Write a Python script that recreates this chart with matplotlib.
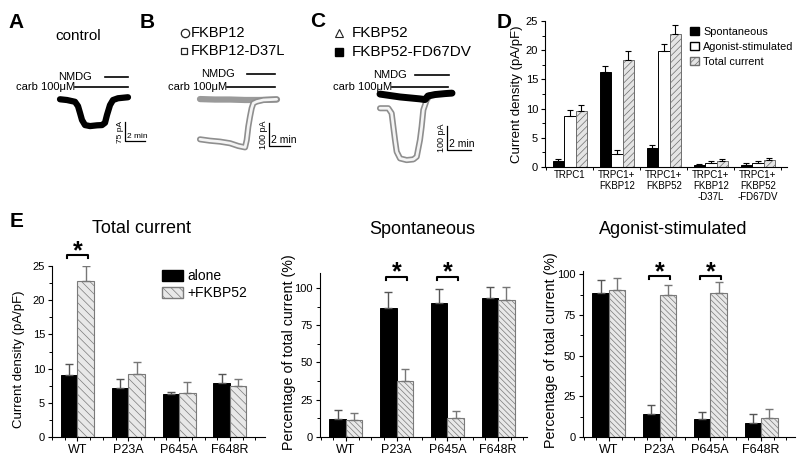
import numpy as np
import matplotlib.pyplot as plt
from matplotlib.lines import Line2D
from matplotlib.patches import Patch
from matplotlib.ticker import AutoMinorLocator, FixedLocator

plt.rcParams['font.family'] = ['Liberation Sans', 'DejaVu Sans']
plt.rcParams['hatch.linewidth'] = 0.5

W, H = 800, 470

# ---------------- traces A-C (time in min, current in pA) ----------------
a_time = [0, 0.7, 1.5, 1.8, 2.0, 2.2, 2.5, 3.0, 3.7, 4.2, 4.5, 4.7, 5.0, 5.3, 5.8, 6.8]
a_curr = [-5, -8, -15, -32, -59, -87, -107, -111, -108, -107, -98, -67, -28, -8, -1, 3]

b_mut_time = [0, 1.43, 2.86, 4.29, 5.71, 7.33]
b_mut_curr = [-9, -11, -11, -13, -13, -11]
b_wt_time = [0, 0.95, 1.9, 2.86, 3.65, 4.29, 4.45, 4.6, 4.76, 4.92, 5.08, 5.4, 6.03, 7.3]
b_wt_curr = [-184, -190, -194, -201, -213, -219, -187, -129, -86, -49, -27, -20, -13, -10]

c_mut_time = [0, 0.83, 1.67, 2.5, 3.33, 3.75, 4.0, 4.58, 5.42, 6.0]
c_mut_curr = [8, 2, -4, -8, -12, -15, 0, 6, 10, 12]
c_wt_time = [0, 0.69, 0.97, 1.11, 1.25, 1.39, 1.67, 2.22, 2.78, 3.06, 3.33, 3.47, 3.61, 3.89, 4.17]
c_wt_curr = [-51, -51, -72, -128, -183, -232, -260, -267, -264, -253, -183, -128, -58, -17, 4]

# ---------------- panel D ----------------
d_groups = ['TRPC1', 'TRPC1+\nFKBP12', 'TRPC1+\nFKBP52',
            'TRPC1+\nFKBP12\n-D37L', 'TRPC1+\nFKBP52\n-FD67DV']
d_spont = [1.0, 16.3, 3.2, 0.4, 0.3]
d_spont_err = [0.45, 1.0, 0.6, 0.15, 0.35]
d_agon = [8.7, 2.2, 19.8, 0.7, 0.6]
d_agon_err = [1.0, 0.7, 1.3, 0.3, 0.4]
d_total = [9.6, 18.4, 22.8, 1.0, 1.15]
d_total_err = [1.0, 1.5, 1.6, 0.45, 0.45]

# ---------------- panel E ----------------
mutants = ['WT', 'P23A', 'P645A', 'F648R']
tot_alone = [9.1, 7.1, 6.3, 7.9]
tot_alone_err = [1.5, 1.45, 0.25, 1.35]
tot_fk = [22.85, 9.2, 6.5, 7.5]
tot_fk_err = [2.15, 1.8, 1.55, 1.0]
spo_alone = [12.4, 86.5, 89.9, 93.3]
spo_alone_err = [5.6, 10.5, 9.6, 7.4]
spo_fk = [11.2, 37.8, 13.0, 92.1]
spo_fk_err = [5.2, 7.6, 4.5, 8.6]
ago_alone = [88.7, 14.3, 11.3, 8.4]
ago_alone_err = [7.6, 5.4, 4.3, 5.9]
ago_fk = [90.2, 87.1, 88.7, 11.7]
ago_fk_err = [7.3, 6.1, 6.8, 5.7]

fig = plt.figure(figsize=(8, 4.7), dpi=100)


def px_axes(l, t, r, b):
    return fig.add_axes([l / W, 1 - b / H, (r - l) / W, (b - t) / H])


def ftext(x, y, s, **kw):
    return fig.text(x / W, 1 - y / H, s, **kw)


def trace_axes(box, x0, y0, ppm, ppp):
    l, t, r, b = box
    ax = px_axes(l, t, r, b)
    ax.set_xlim((l - x0) / ppm, (r - x0) / ppm)
    ax.set_ylim((y0 - b) / ppp, (y0 - t) / ppp)
    ax.axis('off')
    return ax


def protocol(ax, carb, carb_lvl, nmdg, nmdg_lvl, gap):
    ax.plot(carb, [carb_lvl, carb_lvl], color='k', lw=1.2)
    ax.text(carb[0], carb_lvl, 'carb 100\u03bcM', ha='right', va='center', fontsize=8)
    ax.plot(nmdg, [nmdg_lvl, nmdg_lvl], color='k', lw=1.2)
    ax.text(nmdg[0] - gap, nmdg_lvl, 'NMDG', ha='right', va='center', fontsize=8)


def scalebar(ax, x, y, tlen, ilen, ilabel, fs_t, fs_i):
    ax.plot([x, x, x + tlen], [y + ilen, y, y], color='k', lw=0.9)
    ax.annotate('2 min', (x, y), xytext=(1.5, 1), textcoords='offset points',
                ha='left', va='bottom', fontsize=fs_t)
    ax.annotate(ilabel, (x, y + ilen / 2), xytext=(-1, 0), textcoords='offset points',
                ha='right', va='center', rotation=90, fontsize=fs_i)


def tube(ax, t, i):
    # chain of open grey markers
    ax.plot(t, i, color='#8e8e8e', lw=4.4, solid_joinstyle='round', solid_capstyle='round')
    ax.plot(t, i, color='#f4f4f4', lw=2.0, solid_joinstyle='round', solid_capstyle='round')


def leg_marker(x, y, **kw):
    fig.add_artist(Line2D([x / W], [1 - y / H], transform=fig.transFigure, ls='none', **kw))


# Panel A
axA = trace_axes((15, 55, 150, 160), 60, 98, 10.0, 0.253)
protocol(axA, [1.5, 6.8], 43, [4.5, 6.8], 83, 1.3)
axA.plot(a_time, a_curr, color='k', lw=4.5, solid_joinstyle='round', solid_capstyle='round')
scalebar(axA, 6.5, -170, 2, 75, '75 pA', 6, 6)
ftext(78, 36, 'control', ha='center', va='center', fontsize=11)

# Panel B
axB = trace_axes((150, 55, 305, 165), 200, 97, 10.5, 0.23)
protocol(axB, [2.54, 7.14], 42, [4.45, 7.14], 100, 1.1)
axB.plot(b_mut_time, b_mut_curr, color='#9a9a9a', lw=4.5, solid_capstyle='round')
tube(axB, b_wt_time, b_wt_curr)
scalebar(axB, 6.6, -213, 2, 100, '100 pA', 7.5, 6.5)
leg_marker(185, 33, marker='o', ms=6, mfc='white', mec='#222', mew=0.9)
leg_marker(184, 51, marker='s', ms=5, mfc='white', mec='#222', mew=0.9)
ftext(191, 33, 'FKBP12', va='center', fontsize=10.5)
ftext(191, 51, 'FKBP12-D37L', va='center', fontsize=10.5)

# Panel C
axC = trace_axes((330, 55, 490, 170), 380, 96, 12.0, 0.24)
protocol(axC, [0.97, 5.69], 36, [2.92, 5.78], 87, 0.7)
tube(axC, c_wt_time, c_wt_curr)
axC.plot(c_mut_time, c_mut_curr, color='k', lw=5, solid_capstyle='round')
scalebar(axC, 5.58, -225, 2, 100, '100 pA', 7.5, 6.5)
leg_marker(339, 33, marker='^', ms=6, mfc='white', mec='#222', mew=0.8)
leg_marker(339, 52, marker='s', ms=6, mfc='black', mec='black')
ftext(352, 33, 'FKBP52', va='center', fontsize=11)
ftext(352, 52, 'FKBP52-FD67DV', va='center', fontsize=11)


def style_axes(ax, ymajor, labelsize):
    for s in ('top', 'right'):
        ax.spines[s].set_visible(False)
    for s in ('left', 'bottom'):
        ax.spines[s].set_linewidth(0.8)
    ax.yaxis.set_major_locator(FixedLocator(ymajor))
    ax.yaxis.set_minor_locator(AutoMinorLocator(2))
    ax.tick_params(direction='out', length=3, width=0.8, labelsize=labelsize, pad=2)
    ax.tick_params(which='minor', direction='out', length=2, width=0.7)


# Panel D
axD = px_axes(545, 21, 787, 167)
xd = np.arange(len(d_groups))
wd = 0.245
axD.bar(xd - wd, d_spont, wd, color='black', edgecolor='black', lw=0.7)
axD.bar(xd, d_agon, wd, color='white', edgecolor='black', lw=0.7)
axD.bar(xd + wd, d_total, wd, color='#e4e4e4', edgecolor='#6e6e6e', hatch='/////', lw=0.7)
for off, v, e in ((-wd, d_spont, d_spont_err), (0, d_agon, d_agon_err), (wd, d_total, d_total_err)):
    axD.errorbar(xd + off, v, yerr=[np.zeros(len(v)), e], fmt='none', ecolor='black',
                 elinewidth=0.8, capsize=2.5, capthick=0.8)
axD.set_xlim(-0.53, 4.62)
axD.set_ylim(0, 25)
style_axes(axD, [0, 5, 10, 15, 20, 25], 8)
axD.set_xticks(xd)
axD.set_xticklabels(d_groups, fontsize=7, linespacing=1.15)
axD.xaxis.set_minor_locator(FixedLocator(np.arange(-0.5, 4.6, 0.5)))
axD.tick_params(axis='x', which='major', length=0)
axD.legend(handles=[Patch(facecolor='black', edgecolor='black'),
                    Patch(facecolor='white', edgecolor='black'),
                    Patch(facecolor='#e4e4e4', edgecolor='#6e6e6e', hatch='/////')],
           labels=['Spontaneous', 'Agonist-stimulated', 'Total current'],
           loc='upper left', bbox_to_anchor=(0.6, 0.96), frameon=False, fontsize=7.8,
           handlelength=0.8, handleheight=0.8, handletextpad=0.4, labelspacing=0.45,
           borderpad=0, borderaxespad=0)
ftext(517, 94, 'Current density (pA/pF)', rotation=90, ha='center', va='center', fontsize=9.5)


# Panel E
def e_panel(box, xlim, ylim, yticks, alone, alone_err, fk, fk_err, hatch, sig, sig_y, tick_d):
    ax = px_axes(*box)
    x = np.arange(len(mutants))
    w = 0.325
    ax.bar(x - w / 2, alone, w, color='black', edgecolor='black', lw=0.7)
    ax.bar(x + w / 2, fk, w, color='#e8e8e8', edgecolor='#7a7a7a', hatch=hatch, lw=0.8)
    ax.errorbar(x - w / 2, alone, yerr=[np.zeros(4), alone_err], fmt='none', ecolor='#555555',
                elinewidth=1, capsize=3, capthick=1)
    ax.errorbar(x + w / 2, fk, yerr=[np.zeros(4), fk_err], fmt='none', ecolor='#777777',
                elinewidth=1, capsize=3, capthick=1)
    ax.set_xlim(*xlim)
    ax.set_ylim(*ylim)
    style_axes(ax, yticks, 8)
    ax.set_xticks(x)
    ax.set_xticklabels(mutants, fontsize=9)
    ax.xaxis.set_minor_locator(FixedLocator(np.arange(-0.5, 3.8, 0.25)))
    for g in sig:
        ax.plot([g - 0.21, g - 0.21, g + 0.21, g + 0.21],
                [sig_y - tick_d, sig_y, sig_y, sig_y - tick_d],
                color='k', lw=1.5, clip_on=False)
        ax.annotate('*', (g, sig_y), xytext=(0, -2), textcoords='offset points',
                    ha='center', va='baseline', fontsize=18, fontweight='bold',
                    annotation_clip=False)
    return ax


axE1 = e_panel((52, 266, 265, 437), (-0.5, 3.69), (0, 25), [0, 5, 10, 15, 20, 25],
               tot_alone, tot_alone_err, tot_fk, tot_fk_err, '\\\\\\\\', [0], 26.6, 0.45)
axE1.legend(handles=[Patch(facecolor='black', edgecolor='black'),
                     Patch(facecolor='#e8e8e8', edgecolor='#7a7a7a', hatch='\\\\\\\\')],
            labels=['alone', '+FKBP52'], loc='upper left', bbox_to_anchor=(0.516, 0.98),
            frameon=False, fontsize=10, handlelength=1.5, handleheight=0.9,
            handletextpad=0.3, labelspacing=0.2, borderpad=0, borderaxespad=0)

axE2 = e_panel((320, 273, 527, 437), (-0.51, 3.57), (0, 110), [0, 25, 50, 75, 100],
               spo_alone, spo_alone_err, spo_fk, spo_fk_err, '\\\\\\\\\\\\', [1, 2], 107.4, 2.0)
axE3 = e_panel((583, 271, 795, 437), (-0.51, 3.67), (0, 102), [0, 25, 50, 75, 100],
               ago_alone, ago_alone_err, ago_fk, ago_fk_err, '\\\\\\\\\\\\', [1, 2], 98.8, 1.8)

ftext(142, 228, 'Total current', ha='center', va='center', fontsize=13)
ftext(422, 230, 'Spontaneous', ha='center', va='center', fontsize=13)
ftext(673, 230, 'Agonist-stimulated', ha='center', va='center', fontsize=13)
ftext(19, 359, 'Current density (pA/pF)', rotation=90, ha='center', va='center', fontsize=9.5)
ftext(289, 352, 'Percentage of total current (%)', rotation=90, ha='center', va='center', fontsize=10.3)
ftext(551, 350, 'Percentage of total current (%)', rotation=90, ha='center', va='center', fontsize=10.3)

# panel letters
for lab, x, y in (('A', 8, 28), ('B', 140, 28), ('C', 310, 27), ('D', 497, 28), ('E', 10, 227)):
    ftext(x, y, lab, fontsize=15, fontweight='bold', va='baseline')

fig.savefig('out.png', dpi=100)
